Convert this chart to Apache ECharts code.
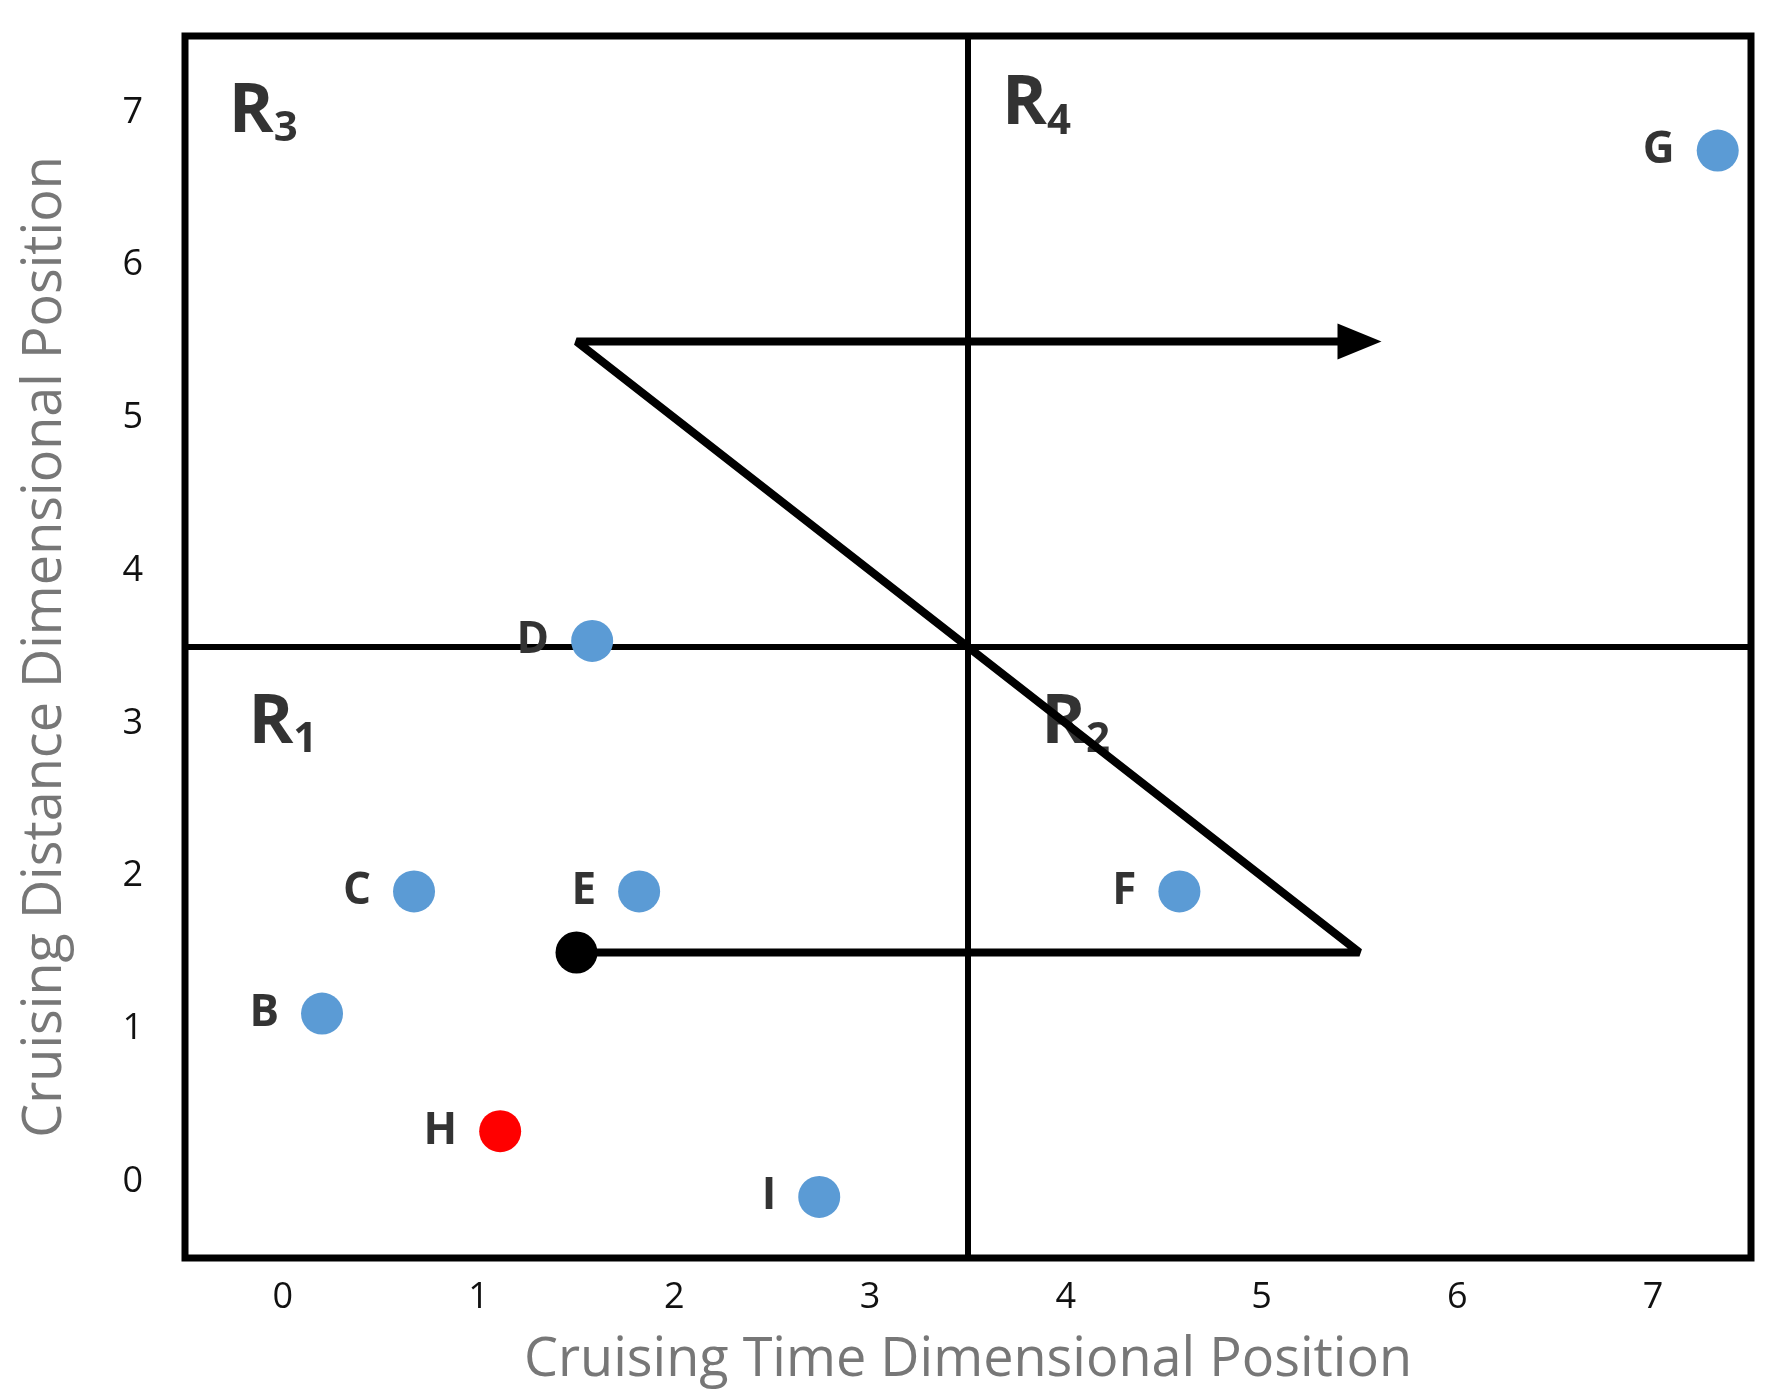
<!DOCTYPE html>
<html>
<head>
<meta charset="utf-8">
<script src="https://cdn.jsdelivr.net/npm/echarts@6/dist/echarts.min.js"></script>
<style>html,body{margin:0;padding:0;background:#fff}#chart{width:1768px;height:1397px}</style>
</head>
<body>
<div id="chart"></div>
<script>
const pointNames = ['B', 'C', 'D', 'E', 'F', 'G', 'I'];
const pointX = [0.2, 0.67, 1.58, 1.82, 4.58, 7.33, 2.74];
const pointY = [1.1, 1.9, 3.54, 1.9, 1.9, 6.75, -0.1];
const redPoint = { name: 'H', x: 1.11, y: 0.33 };
const pathX = [1.5, 5.5, 1.5, 5.5];
const pathY = [1.5, 1.5, 5.5, 5.5];
const regionNames = ['3', '4', '1', '2'];
const regionX = [-0.1, 3.85, 0, 4.05];
const regionY = [7.0, 7.05, 3.0, 3.0];
const divider = 3.5;
const tickLabels = [0, 1, 2, 3, 4, 5, 6, 7];

const chart = echarts.init(document.getElementById('chart'));
const font = 'Open Sans';

const pointLabel = {
  show: true, position: 'left', distance: 22, formatter: '{b}',
  color: '#333', fontSize: 44, fontWeight: 'bold', fontFamily: font
};

const option = {
  animation: false,
  grid: { left: 185, right: 17, top: 36, bottom: 139, show: true, borderColor: '#000', borderWidth: 7 },
  xAxis: {
    type: 'value', min: -0.5, max: 7.5, interval: 0.5,
    name: 'Cruising Time Dimensional Position', nameLocation: 'middle', nameGap: 76,
    nameTextStyle: { fontSize: 54, color: '#777', fontFamily: font },
    axisLine: { show: false }, axisTick: { show: false }, splitLine: { show: false },
    axisLabel: {
      fontSize: 36, color: '#111', fontFamily: font, margin: 22,
      formatter: v => tickLabels.includes(v) ? String(v) : ''
    }
  },
  yAxis: {
    type: 'value', min: -0.5, max: 7.5, interval: 0.5,
    name: 'Cruising Distance Dimensional Position', nameLocation: 'middle', nameGap: 112,
    nameTextStyle: { fontSize: 54, color: '#777', fontFamily: font },
    axisLine: { show: false }, axisTick: { show: false }, splitLine: { show: false },
    axisLabel: {
      fontSize: 36, color: '#111', fontFamily: font, margin: 42,
      formatter: v => tickLabels.includes(v) ? String(v) : ''
    }
  },
  series: [
    {
      type: 'line', silent: true, symbol: 'none', data: [],
      markLine: {
        symbol: 'none', silent: true, label: { show: false },
        lineStyle: { color: '#000', width: 6, type: 'solid' },
        data: [{ xAxis: divider }, { yAxis: divider }]
      }
    },
    {
      type: 'line', z: 5,
      lineStyle: { color: '#000', width: 8 },
      data: pathX.map((x, i) => {
        const d = { value: [x, pathY[i]], symbol: 'none' };
        if (i === 0) { d.symbol = 'circle'; d.symbolSize = 42; d.itemStyle = { color: '#000' }; }
        if (i === pathX.length - 1) { d.symbol = 'triangle'; d.symbolSize = [36, 44]; d.symbolRotate = -90; d.itemStyle = { color: '#000' }; }
        return d;
      })
    },
    {
      type: 'scatter', symbolSize: 42, z: 6,
      itemStyle: { color: '#5b9bd5', opacity: 1 },
      label: pointLabel,
      data: pointNames.map((n, i) => ({ name: n, value: [pointX[i], pointY[i]] }))
    },
    {
      type: 'scatter', symbolSize: 42, z: 6,
      itemStyle: { color: '#ff0000', opacity: 1 },
      label: pointLabel,
      data: [{ name: redPoint.name, value: [redPoint.x, redPoint.y] }]
    },
    {
      type: 'scatter', symbolSize: 2, z: 7, itemStyle: { color: 'rgba(0,0,0,0)' },
      label: {
        show: true, position: 'inside', formatter: p => '{r|R}{s|' + p.name + '}',
        rich: {
          r: { fontSize: 68, fontWeight: 'bold', color: '#000', fontFamily: font },
          s: { fontSize: 42, fontWeight: 'bold', color: '#000', fontFamily: font, verticalAlign: 'bottom', padding: [34, 0, 0, 0] }
        }
      },
      data: regionNames.map((n, i) => ({ name: n, value: [regionX[i], regionY[i]] }))
    }
  ]
};
chart.setOption(option);
</script>
</body>
</html>
